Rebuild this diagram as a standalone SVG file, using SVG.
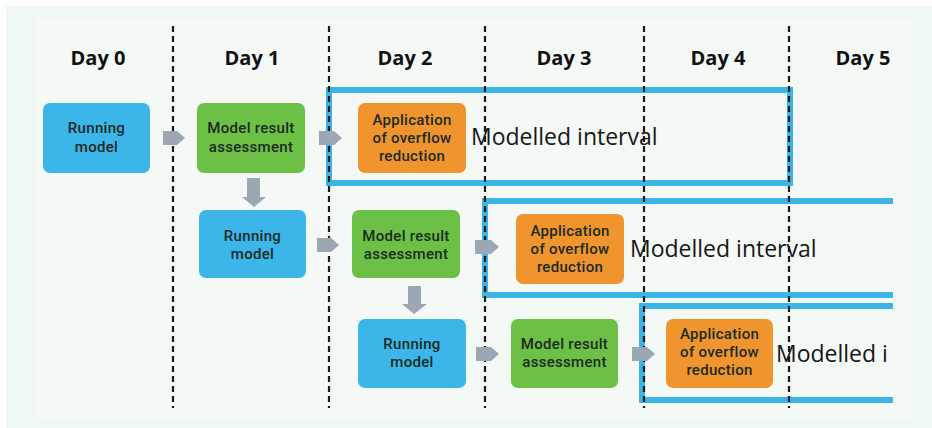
<svg xmlns="http://www.w3.org/2000/svg" width="932" height="428" viewBox="0 0 932 428">
  <defs>
    <style>
      .day{font-family:"Open Sans","Liberation Sans",sans-serif;font-weight:700;font-size:20px;fill:#111;text-anchor:middle}
      .nt{font-family:Roboto,"Liberation Sans",sans-serif;font-weight:500;font-size:15px;fill:#1b2a22;text-anchor:middle;letter-spacing:0.3px}
      .mi{font-family:"Open Sans","Liberation Sans",sans-serif;font-weight:400;font-size:23px;fill:#161616}
      .blue{fill:#3cb6e8}
      .green{fill:#6cc046}
      .orange{fill:#f0952e}
      .div{stroke:#1a1a1a;stroke-width:2.2;stroke-dasharray:6 4;fill:none}
      .iv{stroke:#3ab5e5;stroke-width:6;fill:none}
      .arr{fill:#9ba8b4}
    </style>
  </defs>
  <rect x="0" y="0" width="932" height="428" fill="#ffffff"/>
  <rect x="6" y="6" width="926" height="422" fill="#eff7f3"/>
  <rect x="37" y="18" width="874" height="401" fill="#f4f9f6"/>

  <g id="intervals">
    <path class="iv" d="M329 90 H790 V183 H329 Z"/>
    <path class="iv" d="M893 201 H485 V295 H893"/>
    <path class="iv" d="M893 306 H642 V400 H893"/>
  </g>

  <g id="day-dividers">
    <line class="div" x1="173" y1="26" x2="173" y2="408"/>
    <line class="div" x1="329" y1="26" x2="329" y2="408"/>
    <line class="div" x1="485" y1="26" x2="485" y2="408"/>
    <line class="div" x1="644" y1="26" x2="644" y2="408"/>
    <line class="div" x1="789" y1="26" x2="789" y2="408"/>
  </g>

  <g id="day-labels">
    <text class="day" x="98" y="65">Day 0</text>
    <text class="day" x="252" y="65">Day 1</text>
    <text class="day" x="405" y="65">Day 2</text>
    <text class="day" x="564" y="65">Day 3</text>
    <text class="day" x="718" y="65">Day 4</text>
    <text class="day" x="863" y="65">Day 5</text>
  </g>

  <g id="connectors">
    <path class="arr" d="M163 131 H177 L185 138 L177 145 H163 Z"/>
    <path class="arr" d="M319 131 H334 L342 138 L334 145 H319 Z"/>
    <path class="arr" d="M247 178 H260 V197 H266 L254 207 L242 197 H247 Z"/>
    <path class="arr" d="M317 238 H331 L339 245 L331 252 H317 Z"/>
    <path class="arr" d="M475 240 H491 L499 247 L491 254 H475 Z"/>
    <path class="arr" d="M408 286 H421 V304 H427 L414 314 L402 304 H408 Z"/>
    <path class="arr" d="M476 347 H491 L499 354 L491 361 H476 Z"/>
    <path class="arr" d="M632 347 H647 L655 354 L647 361 H632 Z"/>
  </g>

  <g id="run1">
    <rect class="blue" x="43" y="103" width="107" height="70" rx="7"/>
    <text class="nt" x="96.5" y="133">Running</text>
    <text class="nt" x="96.5" y="152">model</text>
  </g>
  <g id="assess1">
    <rect class="green" x="197" y="103" width="108" height="70" rx="7"/>
    <text class="nt" x="251" y="133">Model result</text>
    <text class="nt" x="251" y="152">assessment</text>
  </g>
  <g id="apply1">
    <rect class="orange" x="358" y="103" width="108" height="70" rx="7"/>
    <text class="nt" x="412" y="125">Application</text>
    <text class="nt" x="412" y="143">of overflow</text>
    <text class="nt" x="412" y="161">reduction</text>
  </g>
  <g id="interval1-label">
    <text class="mi" x="471" y="145">Modelled interval</text>
  </g>

  <g id="run2">
    <rect class="blue" x="199" y="210" width="107" height="68" rx="7"/>
    <text class="nt" x="252.5" y="241">Running</text>
    <text class="nt" x="252.5" y="259">model</text>
  </g>
  <g id="assess2">
    <rect class="green" x="352" y="210" width="108" height="68" rx="7"/>
    <text class="nt" x="406" y="241">Model result</text>
    <text class="nt" x="406" y="259">assessment</text>
  </g>
  <g id="apply2">
    <rect class="orange" x="516" y="214" width="108" height="70" rx="7"/>
    <text class="nt" x="570" y="236">Application</text>
    <text class="nt" x="570" y="254">of overflow</text>
    <text class="nt" x="570" y="272">reduction</text>
  </g>
  <g id="interval2-label">
    <text class="mi" x="630" y="257">Modelled interval</text>
  </g>

  <g id="run3">
    <rect class="blue" x="358" y="319" width="108" height="69" rx="7"/>
    <text class="nt" x="412" y="349">Running</text>
    <text class="nt" x="412" y="367">model</text>
  </g>
  <g id="assess3">
    <rect class="green" x="511" y="319" width="107" height="69" rx="7"/>
    <text class="nt" x="564.5" y="349">Model result</text>
    <text class="nt" x="564.5" y="367">assessment</text>
  </g>
  <g id="apply3">
    <rect class="orange" x="666" y="319" width="107" height="69" rx="7"/>
    <text class="nt" x="719.5" y="339">Application</text>
    <text class="nt" x="719.5" y="357">of overflow</text>
    <text class="nt" x="719.5" y="375">reduction</text>
  </g>
  <g id="interval3-label">
    <text class="mi" x="776" y="362">Modelled i</text>
  </g>
</svg>
